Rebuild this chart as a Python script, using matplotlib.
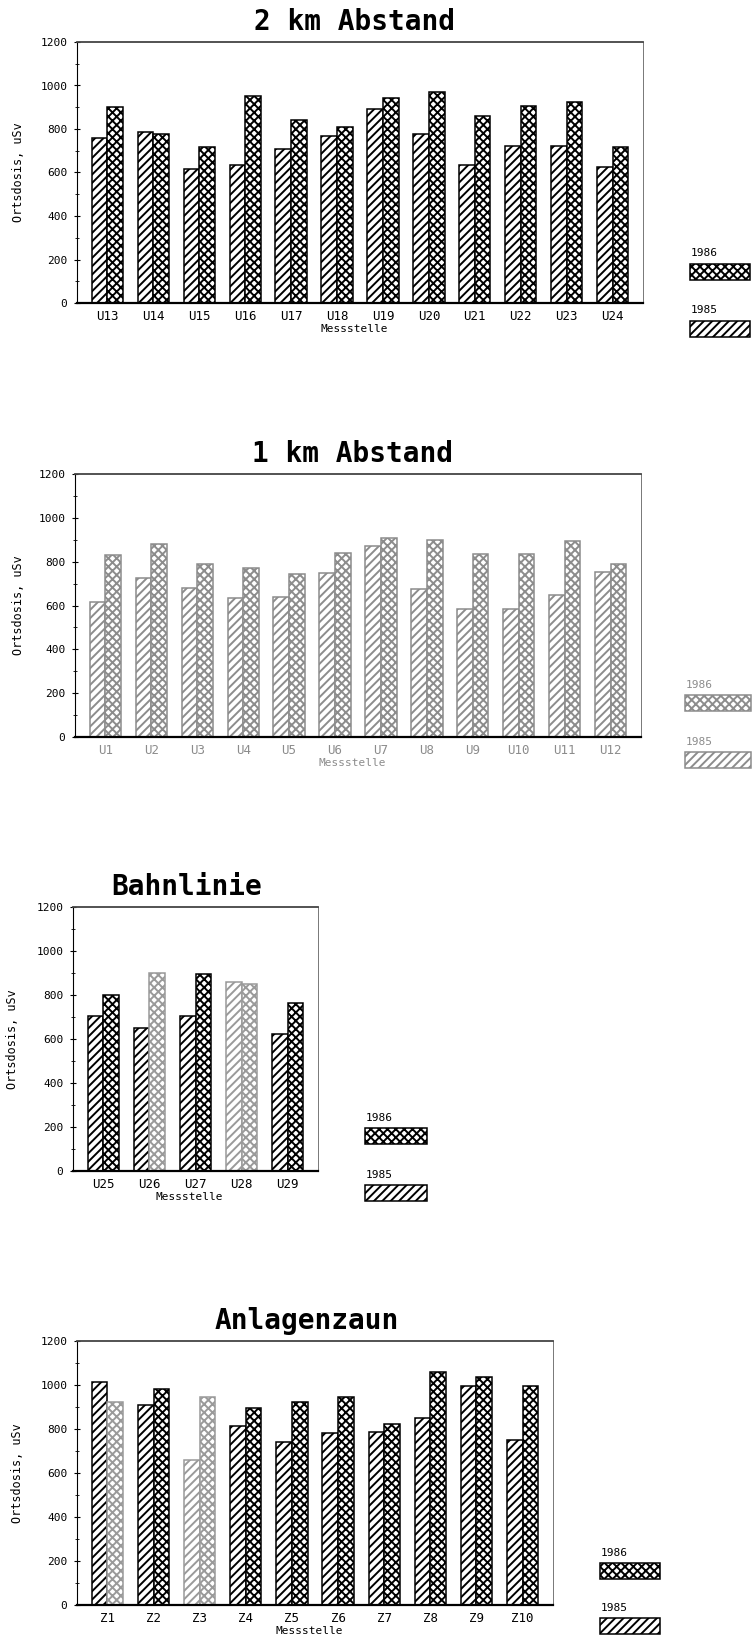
import numpy as np
import matplotlib
matplotlib.use("Agg")
import matplotlib.pyplot as plt
from matplotlib.patches import Rectangle

# ---------------- data ----------------
years = ["1985", "1986"]
yticks_vals = [0, 200, 400, 600, 800, 1000, 1200]

titles = ["2 km Abstand", "1 km Abstand", "Bahnlinie", "Anlagenzaun"]

cats_2km = ["U13", "U14", "U15", "U16", "U17", "U18", "U19", "U20", "U21", "U22", "U23", "U24"]
v85_2km = [759, 787, 618, 636, 706, 770, 894, 779, 635, 724, 723, 627]
v86_2km = [900, 779, 718, 952, 840, 811, 943, 969, 858, 907, 922, 718]

cats_1km = ["U1", "U2", "U3", "U4", "U5", "U6", "U7", "U8", "U9", "U10", "U11", "U12"]
v85_1km = [617, 724, 678, 633, 640, 747, 872, 675, 584, 582, 649, 755]
v86_1km = [831, 881, 790, 770, 742, 838, 910, 899, 835, 834, 895, 788]

cats_bahn = ["U25", "U26", "U27", "U28", "U29"]
v85_bahn = [703, 652, 706, 859, 622]
v86_bahn = [802, 900, 894, 852, 764]

cats_zaun = ["Z1", "Z2", "Z3", "Z4", "Z5", "Z6", "Z7", "Z8", "Z9", "Z10"]
v85_zaun = [1014, 909, 657, 815, 740, 783, 788, 851, 995, 750]
v86_zaun = [921, 981, 946, 894, 922, 946, 823, 1061, 1037, 995]

ylabel = "Ortsdosis, uSv"
xlabel = "Messstelle"

# ---------------- style / layout ----------------
plt.rcParams["hatch.linewidth"] = 1.4
MONO = "DejaVu Sans Mono"
W, H = 752, 1639
fig = plt.figure(figsize=(W / 100, H / 100), dpi=100)


def fx(x):
    return x / W


def fy(y):
    return 1 - y / H


HATCH = {"1985": "////", "1986": "xxxx"}

panels = [
    dict(title=titles[0], cats=cats_2km, v85=v85_2km, v86=v86_2km,
         box=(77, 643, 42, 303), tx=355, ylx=19, color="black", faded=[],
         leg=(690, 253, 264, 310, 321, 60)),
    dict(title=titles[1], cats=cats_1km, v85=v85_1km, v86=v86_1km,
         box=(75, 641, 474, 737), tx=353, ylx=19, color="#8c8c8c", faded=[],
         leg=(685, 685, 695, 742, 752, 66)),
    dict(title=titles[2], cats=cats_bahn, v85=v85_bahn, v86=v86_bahn,
         box=(73, 318, 907, 1171), tx=187, ylx=13, color="black", faded=[(1, 1), (3, 0), (3, 1)],
         leg=(365, 1118, 1128, 1175, 1185, 62)),
    dict(title=titles[3], cats=cats_zaun, v85=v85_zaun, v86=v86_zaun,
         box=(77, 553, 1341, 1605), tx=307, ylx=18, color="black", faded=[(0, 1), (2, 0), (2, 1)],
         leg=(600, 1553, 1563, 1608, 1618, 60)),
]

bw = 0.34
for p in panels:
    l, r, t, b = p["box"]
    ax = fig.add_axes([fx(l), fy(b), (r - l) / W, (b - t) / H])
    col = p["color"]
    n = len(p["cats"])
    x = np.arange(n)
    for si, (yr, vals) in enumerate(zip(years, [p["v85"], p["v86"]])):
        offs = -bw / 2 if si == 0 else bw / 2
        bars = ax.bar(x + offs, vals, width=bw, facecolor="white", edgecolor=col,
                      hatch=HATCH[yr], linewidth=1.1, zorder=2)
        for i, bar in enumerate(bars):
            if (i, si) in p["faded"]:
                bar.set_edgecolor("#9a9a9a")
    ax.set_xlim(-0.66, n - 1 + 0.66)
    ax.set_ylim(0, 1200)
    ax.set_yticks(yticks_vals)
    ax.set_yticklabels([str(v) for v in yticks_vals], fontsize=8, family=MONO)
    ax.set_yticks(np.arange(100, 1200, 200), minor=True)
    ax.tick_params(axis="y", which="major", direction="inout", length=4, width=0.8, pad=5)
    ax.tick_params(axis="y", which="minor", direction="inout", length=3, width=0.6)
    ax.set_xticks(x)
    ax.set_xticklabels(p["cats"], fontsize=9, family=MONO, color=col)
    ax.tick_params(axis="x", length=0, pad=5)
    ax.spines["top"].set_linewidth(1.3)
    ax.spines["top"].set_color("#444444")
    ax.spines["right"].set_linewidth(0.7)
    ax.spines["right"].set_color("#777777")
    ax.spines["left"].set_linewidth(0.8)
    ax.spines["bottom"].set_linewidth(1.6)
    ax.spines["bottom"].set_color("black")

    # title
    fig.text(fx(p["tx"]), fy(t - 20), p["title"], ha="center", va="center",
             fontsize=20, fontweight="bold", family=MONO)
    # axis labels
    fig.text(fx(p["ylx"]), fy((t + b) / 2), ylabel, rotation=90, ha="center",
             va="center", fontsize=8.5, family=MONO)
    fig.text(fx((l + r) / 2 - 6), fy(b + 26), xlabel, ha="center", va="center",
             fontsize=8, family=MONO, color=col)

    # legend (text above swatch)
    lx, t86, b86, t85, b85, lw_ = p["leg"]
    for yr, ty, by in [("1986", t86, b86), ("1985", t85, b85)]:
        fig.text(fx(lx + 1), fy(ty), yr, ha="left", va="center", fontsize=8,
                 family=MONO, color=col)
        rect = Rectangle((fx(lx), fy(by + 16)), lw_ / W, 16 / H,
                         transform=fig.transFigure, facecolor="white",
                         edgecolor=col, hatch=HATCH[yr], linewidth=1.1)
        fig.add_artist(rect)

fig.savefig("out.png", dpi=100, facecolor="white")
